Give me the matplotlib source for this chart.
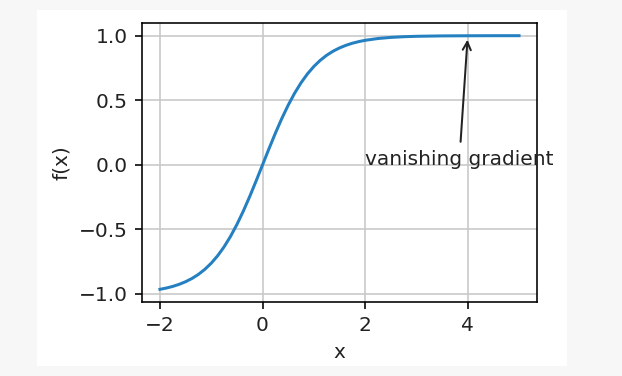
import matplotlib
matplotlib.use("Agg")
import matplotlib.pyplot as plt
from matplotlib.patches import Rectangle

# tanh curve, values
x_vals = [-2.0, -1.875, -1.75, -1.625, -1.5, -1.375, -1.25, -1.125, -1.0,
          -0.875, -0.75, -0.625, -0.5, -0.375, -0.25, -0.125, 0.0,
          0.125, 0.25, 0.375, 0.5, 0.625, 0.75, 0.875, 1.0,
          1.125, 1.25, 1.375, 1.5, 1.625, 1.75, 1.875, 2.0,
          2.25, 2.5, 2.75, 3.0, 3.5, 4.0, 4.5, 5.0]
y_vals = [-0.9640, -0.9540, -0.9414, -0.9253, -0.9051, -0.8798, -0.8483, -0.8093, -0.7616,
          -0.7039, -0.6351, -0.5546, -0.4621, -0.3584, -0.2449, -0.1244, 0.0,
          0.1244, 0.2449, 0.3584, 0.4621, 0.5546, 0.6351, 0.7039, 0.7616,
          0.8093, 0.8483, 0.8798, 0.9051, 0.9253, 0.9414, 0.9540, 0.9640,
          0.9780, 0.9866, 0.9919, 0.9951, 0.9982, 0.9993, 0.9998, 0.9999]

note_text = "vanishing gradient"
note_xy = (4, 1)
note_text_xy = (2, 0.0)

W, H, DPI = 622, 376, 145
fig = plt.figure(figsize=(W / DPI, H / DPI), dpi=DPI, facecolor="#f7f7f7")
# white card behind the chart
fig.patches.append(Rectangle((37 / W, 10 / H), 530 / W, 356 / H,
                             transform=fig.transFigure, facecolor="white",
                             edgecolor="none", zorder=-10))

ax = fig.add_axes([142 / W, 74 / H, 395 / W, 279 / H])
ax.plot(x_vals, y_vals, color="#2580c2", linewidth=1.5)
ax.annotate(note_text, xy=note_xy, xytext=note_text_xy, color="#222222",
            arrowprops=dict(arrowstyle="->", color="#222222"))
ax.set_xlabel("x", color="#222222")
ax.set_ylabel("f(x)", color="#222222")
ax.tick_params(labelcolor="#222222")
ax.grid(True, color="#c8c8c8")

fig.savefig("out.png", dpi=DPI, facecolor=fig.get_facecolor())
